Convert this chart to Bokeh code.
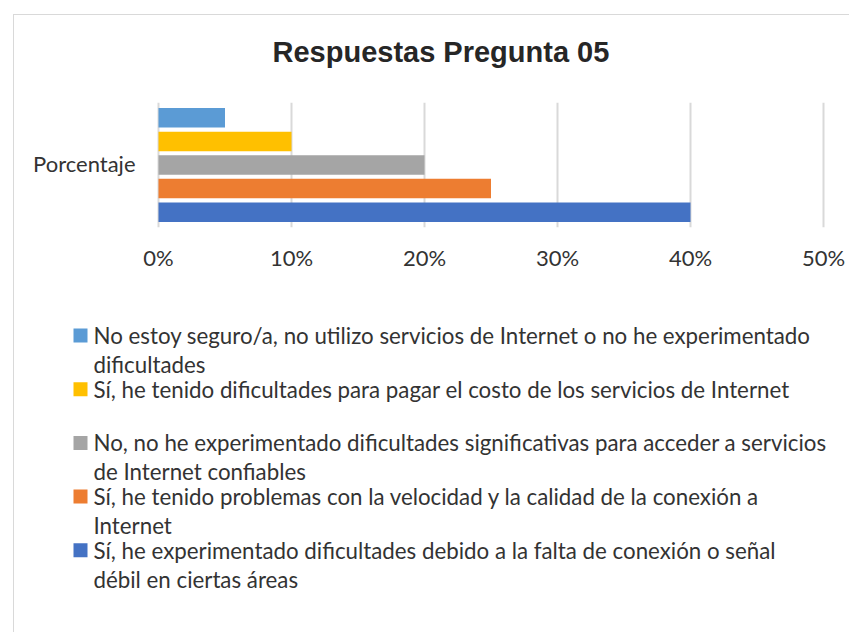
from bokeh.plotting import figure
from bokeh.models import FixedTicker, PrintfTickFormatter, ColumnDataSource, Range1d, Title
from bokeh.layouts import column
from bokeh.core.properties import value
from bokeh.embed import file_html
from bokeh.resources import INLINE

# ---------------- data ----------------
title_text = "Respuestas Pregunta 05"
series_name = "Porcentaje"
categories = [
    "No estoy seguro/a, no utilizo servicios de Internet o no he experimentado\ndificultades",
    "Sí, he tenido dificultades para pagar el costo de los servicios de Internet",
    "No, no he experimentado dificultades significativas para acceder a servicios\nde Internet confiables",
    "Sí, he tenido problemas con la velocidad y la calidad de la conexión a\nInternet",
    "Sí, he experimentado dificultades debido a la falta de conexión o señal\ndébil en ciertas áreas",
]
values = [5, 10, 20, 25, 40]
colors = ["#5B9BD5", "#FFC000", "#A5A5A5", "#ED7D31", "#4472C4"]
x_ticks = [0, 10, 20, 30, 40, 50]

# ---------------- styles / layout ----------------
FONT = "Lato"
FSIZE = "22px"
LEG_FSIZE = "22.3px"
TXT = "#333333"
GRID = "#d9d9d9"

W = 835            # figure width (px)
H_TOP = 285
H_LEG = 332
TOP_BORDER = 87
BOTTOM_BORDER = 73
ZERO_PX = 144      # pixel position of the 0% line inside the figure
END_PX = 809       # pixel position of the last tick line inside the figure

n = len(values)
ypos = [n - 1 - i for i in range(n)]
src = ColumnDataSource(dict(y=ypos, v=values, c=colors))

x_lo, x_hi = min(x_ticks), max(x_ticks)
px_per_unit = (END_PX - ZERO_PX) / (x_hi - x_lo)
xr = Range1d(x_lo - ZERO_PX / px_per_unit, x_lo + (W - ZERO_PX) / px_per_unit)

p = figure(width=W, height=H_TOP, title=None,
           x_range=xr, y_range=Range1d(-0.65, n - 1 + 0.65),
           output_backend="svg", toolbar_location=None, y_axis_type=None,
           min_border_left=0, min_border_right=0,
           min_border_top=TOP_BORDER, min_border_bottom=BOTTOM_BORDER)
p.outline_line_color = None
p.background_fill_color = "white"
p.border_fill_color = "white"

p.hbar(y="y", left=0, right="v", height=0.83, fill_color="c", line_color=None, source=src)

# series (category) label on the left of the bars
mid = (n - 1) / 2
p.text(x=[x_lo - 23 / px_per_unit], y=[mid + 0.08], text=[series_name],
       text_font=value(FONT), text_font_size=FSIZE, text_color=TXT,
       text_align="right", text_baseline="middle")

# title: a thin spacer next to the frame, then the title itself
p.add_layout(Title(text=" ", text_font_size="1px", standoff=32), "above")
p.add_layout(Title(text=title_text, text_font="Liberation Sans", text_font_style="bold",
                   text_font_size="29px", text_color="#262626",
                   align="left", offset=258, standoff=0), "above")

xa = p.xaxis[0]
xa.ticker = FixedTicker(ticks=x_ticks)
xa.formatter = PrintfTickFormatter(format="%d%%")
xa.axis_line_color = None
xa.major_tick_line_color = None
xa.minor_tick_line_color = None
xa.major_label_text_font = FONT
xa.major_label_text_font_size = FSIZE
xa.major_label_text_color = TXT
xa.major_label_standoff = 10

p.xgrid.ticker = FixedTicker(ticks=x_ticks)
p.xgrid.grid_line_color = GRID
p.xgrid.grid_line_width = 2
p.ygrid.visible = False

# ---------------- legend panel ----------------
leg = figure(width=W, height=H_LEG, x_range=Range1d(0, W), y_range=Range1d(H_LEG, 0),
             output_backend="svg", toolbar_location=None,
             x_axis_type=None, y_axis_type=None,
             min_border=0, min_border_left=0, min_border_right=0,
             min_border_top=0, min_border_bottom=0)
leg.outline_line_color = None
leg.grid.visible = False
leg.background_fill_color = "white"
leg.border_fill_color = "white"

first_y = 35.0
step = 53.7
line_gap = 29.0
sq_x = 66.0
sq_size = 14.0
text_x = 79.0

sq_src = ColumnDataSource(dict(x=[sq_x] * n, y=[first_y + step * i for i in range(n)], c=colors))
leg.rect(x="x", y="y", width=sq_size, height=sq_size, fill_color="c", line_color=None, source=sq_src)

tx, ty, tt = [], [], []
for i, lab in enumerate(categories):
    for j, line in enumerate(lab.split("\n")):
        tx.append(text_x)
        ty.append(first_y + step * i + line_gap * j)
        tt.append(line)
leg.text(x="x", y="y", text="t", source=ColumnDataSource(dict(x=tx, y=ty, t=tt)),
         text_font=value(FONT), text_font_size=LEG_FSIZE, text_color=TXT,
         text_baseline="middle", text_align="left")

layout = column(p, leg, spacing=0,
                styles={"margin-top": "14px", "margin-left": "13px",
                        "border-left": "1px solid #d9d9d9",
                        "border-top": "1px solid #d9d9d9"})

open("out.html", "w").write(file_html(layout, INLINE))
